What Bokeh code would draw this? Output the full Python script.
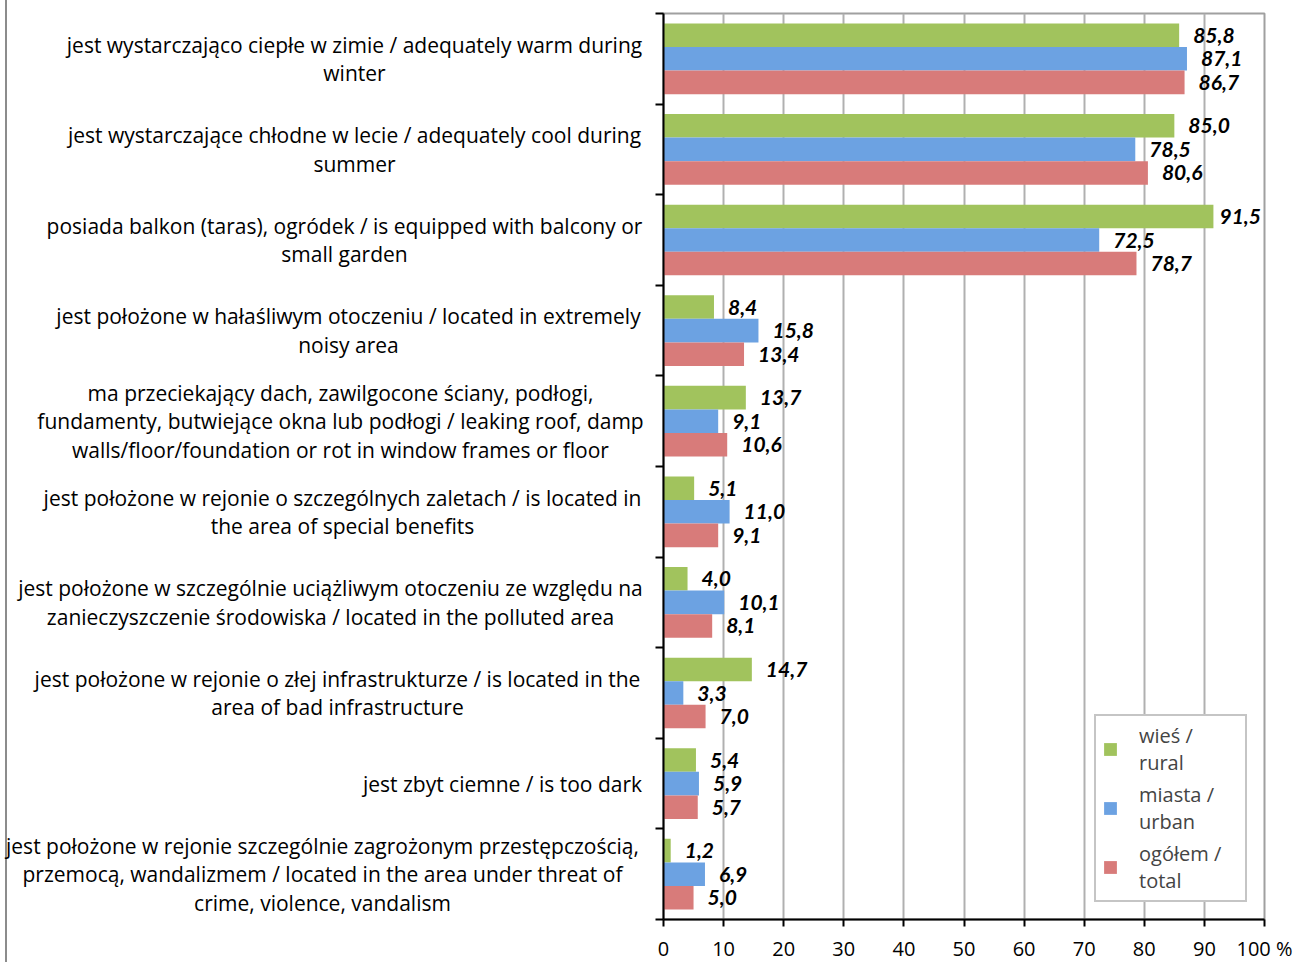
from bokeh.plotting import figure
from bokeh.layouts import row
from bokeh.models import ColumnDataSource, FixedTicker, Legend, LegendItem, Range1d
from bokeh.embed import file_html
from bokeh.resources import INLINE
from bokeh.core.properties import value

categories = [
    "jest wystarczająco ciepłe w zimie / adequately warm during\nwinter",
    "jest wystarczające chłodne w lecie / adequately cool during\nsummer",
    "posiada balkon (taras), ogródek / is equipped with balcony or\nsmall garden",
    "jest położone w hałaśliwym otoczeniu / located in extremely\nnoisy area",
    "ma przeciekający dach, zawilgocone ściany, podłogi,\nfundamenty, butwiejące okna lub podłogi / leaking roof, damp\nwalls/floor/foundation or rot in window frames or floor",
    "jest położone w rejonie o szczególnych zaletach / is located in\nthe area of special benefits",
    "jest położone w szczególnie uciążliwym otoczeniu ze względu na\nzanieczyszczenie środowiska / located in the polluted area",
    "jest położone w rejonie o złej infrastrukturze / is located in the\narea of bad infrastructure",
    "jest zbyt ciemne / is too dark",
    "jest położone w rejonie szczególnie zagrożonym przestępczością,\nprzemocą, wandalizmem / located in the area under threat of\ncrime, violence, vandalism",
]
rural = [85.8, 85.0, 91.5, 8.4, 13.7, 5.1, 4.0, 14.7, 5.4, 1.2]
urban = [87.1, 78.5, 72.5, 15.8, 9.1, 11.0, 10.1, 3.3, 5.9, 6.9]
total = [86.7, 80.6, 78.7, 13.4, 10.6, 9.1, 8.1, 7.0, 5.7, 5.0]
series_names = ["wieś /\nrural", "miasta /\nurban", "ogółem /\ntotal"]
series_colors = ["#A1C35D", "#6CA2E2", "#D87B7A"]
x_ticks = [0, 10, 20, 30, 40, 50, 60, 70, 80, 90, 100]
x_tick_labels = {100: "100 %"}

# layout (pixels)
W, H = 1308, 962
LEFT_W = 655
FRAME_TOP, FRAME_BOTTOM = 13, 919
FRAME_W = 601
LABEL_CX_PX = [354, 354, 344, 348, 340, 342, 330, 337, 502, 322]  # centre of each label block
FONT = "Open Sans"
NUM_FONT = "Lato"
LABEL_GAP = 14
LABEL_W = 45

n = len(categories)
centers = [n - 0.5 - i for i in range(n)]
bar_h = 0.26
offsets = [bar_h, 0.0, -bar_h]
px_per_x = FRAME_W / 100.0

# ---- main chart ----
p = figure(width=W - LEFT_W, height=H, output_backend="svg", toolbar_location=None,
           x_range=Range1d(0, 100), y_range=Range1d(0, n),
           min_border_left=8, min_border_right=W - LEFT_W - 8 - FRAME_W,
           min_border_top=FRAME_TOP, min_border_bottom=H - FRAME_BOTTOM)
p.frame_width = FRAME_W
p.frame_height = FRAME_BOTTOM - FRAME_TOP

renderers = []
for vals, name, col, off in zip([rural, urban, total], series_names, series_colors, offsets):
    src = ColumnDataSource(dict(
        y=[c + off for c in centers],
        v=vals,
        lab=[f"{v:.1f}".replace(".", ",") for v in vals],
        xo=[min(LABEL_GAP, (100 - v) * px_per_x - LABEL_W) for v in vals],
    ))
    r = p.hbar(y="y", right="v", left=0, height=bar_h, source=src,
               fill_color=col, line_color=None)
    renderers.append(r)
    p.text(x="v", y="y", text="lab", source=src, x_offset="xo",
           text_font=value(NUM_FONT), text_font_size="21px", text_font_style="bold italic",
           text_color="black", text_baseline="middle", text_align="left")

p.xaxis.ticker = FixedTicker(ticks=x_ticks)
p.xaxis.major_label_overrides = x_tick_labels
p.xaxis.major_label_text_font = FONT
p.xaxis.major_label_text_font_size = "20px"
p.xaxis.major_label_text_color = "black"
p.xaxis.axis_line_color = "black"
p.xaxis.axis_line_width = 2
p.xaxis.major_tick_line_color = "black"
p.xaxis.major_tick_line_width = 2
p.xaxis.major_tick_out = 7
p.xaxis.major_tick_in = 0
p.xaxis.minor_tick_line_color = None
p.xaxis.major_label_standoff = 8

p.yaxis.ticker = FixedTicker(ticks=list(range(n + 1)))
p.yaxis.major_label_overrides = {i: "" for i in range(n + 1)}
p.yaxis.axis_line_color = "black"
p.yaxis.axis_line_width = 2
p.yaxis.major_tick_line_color = "black"
p.yaxis.major_tick_line_width = 2
p.yaxis.major_tick_out = 8
p.yaxis.major_tick_in = 0
p.yaxis.minor_tick_line_color = None
p.yaxis.major_label_standoff = 0

p.xgrid.ticker = FixedTicker(ticks=x_ticks)
p.xgrid.grid_line_color = "#B0B0B0"
p.xgrid.grid_line_width = 2
p.ygrid.grid_line_color = None
p.outline_line_color = "#A0A0A0"
p.outline_line_width = 2

legend = Legend(items=[LegendItem(label=nm, renderers=[r]) for nm, r in zip(series_names, renderers)],
                location="bottom_right", margin=17,
                label_text_font=FONT, label_text_font_size="20px",
                label_text_line_height=1.29,
                glyph_width=16, glyph_height=16, spacing=5, padding=6,
                label_standoff=21, label_height=40, label_width=100,
                border_line_color="#8C8C8C", border_line_width=2,
                background_fill_color="white", background_fill_alpha=1.0)
p.add_layout(legend)

# ---- category labels (left panel sharing the vertical scale of the chart) ----
left = figure(width=LEFT_W, height=H, output_backend="svg", toolbar_location=None,
              x_range=Range1d(0, LEFT_W), y_range=p.y_range,
              x_axis_location=None, y_axis_location=None,
              min_border_left=0, min_border_right=0,
              min_border_top=FRAME_TOP, min_border_bottom=H - FRAME_BOTTOM)
left.frame_width = LEFT_W
left.frame_height = FRAME_BOTTOM - FRAME_TOP
left.outline_line_color = None
left.xgrid.grid_line_color = None
left.ygrid.grid_line_color = None
left.background_fill_color = None
left.border_fill_color = None
# thin grey chart-area border on the far left, full height
left.styles = {"background": "linear-gradient(to right, white 5px, #8C8C8C 5px, #8C8C8C 7px, white 7px)"}
left.text(x=LABEL_CX_PX, y=centers, text=categories,
          text_font=value(FONT), text_font_size="21px", text_color="black",
          text_align="center", text_baseline="middle", text_line_height=1.02)

layout = row(left, p, spacing=0)
open("out.html", "w").write(file_html(layout, INLINE))
